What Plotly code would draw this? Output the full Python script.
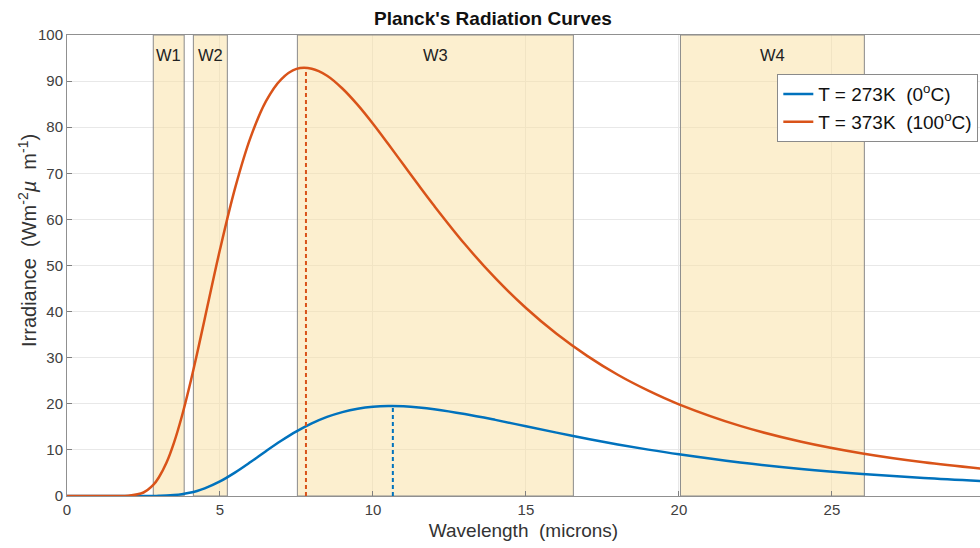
import plotly.graph_objects as go

# Wavelength samples (microns) and irradiance values
wavelength = [0, 0.5, 1, 1.5, 2, 2.5, 2.82, 3, 3.25, 3.5, 3.75, 4, 4.25, 4.5, 5, 5.5, 6, 6.5, 7, 7.5,
              8, 8.5, 9, 9.5, 10, 10.5, 11, 11.5, 12, 13, 14, 15, 16, 17, 18, 19, 20, 22, 24, 26, 28, 30]
irr_273 = [0, 0, 0, 0, 0, 0.004, 0.01, 0.036, 0.09, 0.205, 0.39, 0.69, 1.1, 1.66, 3.16, 5.13, 7.37, 9.72,
           11.97, 14.01, 15.74, 17.15, 18.2, 18.92, 19.35, 19.51, 19.46, 19.22, 18.84, 17.79, 16.51,
           15.13, 13.75, 12.43, 11.19, 10.06, 9.04, 7.28, 5.88, 4.78, 3.9, 3.21]
irr_373 = [0, 0, 0, 0, 0.05, 0.76, 2.4, 4.01, 7.2, 11.64, 17.19, 23.69, 30.87, 38.41, 53.46, 66.95,
           77.79, 85.6, 90.39, 92.64, 92.69, 91.17, 88.4, 84.84, 80.75, 76.35, 71.84, 67.33, 62.95,
           54.65, 47.25, 40.77, 35.18, 30.4, 26.3, 22.85, 19.89, 15.21, 11.78, 9.24, 7.33, 5.88]

# Peak wavelengths and peak values
peak_x = [10.65, 7.81]
peak_y = [19.5, 92.9]

# Window bands
band_names = ["W1", "W2", "W3", "W4"]
band_start = [2.82, 4.13, 7.53, 20.05]
band_end = [3.83, 5.24, 16.55, 26.06]

series_names = ["T = 273K  (0<sup>o</sup>C)", "T = 373K  (100<sup>o</sup>C)"]
colors = ["#0072BD", "#D95319"]

FONT = "Liberation Sans, Arial, Helvetica, sans-serif"

fig = go.Figure()

for name, ys, c in zip(series_names, [irr_273, irr_373], colors):
    fig.add_trace(go.Scatter(x=wavelength, y=ys, mode="lines", name=name,
                             line=dict(color=c, width=2.5, shape="spline", smoothing=1)))

for px, py, c in zip(peak_x, peak_y, colors):
    fig.add_trace(go.Scatter(x=[px, px], y=[0, py], mode="lines", showlegend=False,
                             line=dict(color=c, width=2, dash="4px,3px")))

for nm, s, e in zip(band_names, band_start, band_end):
    fig.add_shape(type="rect", xref="x", yref="y", x0=s, x1=e, y0=0, y1=100,
                  fillcolor="rgba(250,224,160,0.5)", line=dict(color="#8a8a8a", width=1),
                  layer="between")
    fig.add_annotation(x=(s + e) / 2, y=95.6, text=nm, showarrow=False,
                       font=dict(family=FONT, size=16.5, color="#222222"))

# y-axis title as rotated annotation
fig.add_annotation(xref="paper", yref="paper", x=-0.044, y=0.555, xanchor="center", yanchor="middle",
                   textangle=-90, showarrow=False,
                   text="Irradiance  (Wm<sup>-2</sup><i>\u00b5</i>  m<sup>-1</sup>)",
                   font=dict(family=FONT, size=20, color="#333333"))

fig.update_layout(
    width=980, height=548,
    margin=dict(l=67, r=0, t=35, b=52),
    plot_bgcolor="white", paper_bgcolor="white",
    title=dict(text="<b>Planck's Radiation Curves</b>", x=0.503, xanchor="center",
               y=0.967, yanchor="middle", font=dict(family=FONT, size=19, color="#111111")),
    font=dict(family=FONT, size=15, color="#404040"),
    legend=dict(x=0.778, y=0.915, xanchor="left", yanchor="top", bgcolor="white",
                bordercolor="#8a8a8a", borderwidth=1, font=dict(family=FONT, size=19, color="#111111"),
                tracegroupgap=0),
    showlegend=True,
)

fig.update_xaxes(range=[0, 29.84], tickvals=[0, 5, 10, 15, 20, 25], ticks="inside", ticklen=5,
                 tickcolor="#808080", showline=True, linecolor="#909090", linewidth=1, mirror=True,
                 showgrid=True, gridcolor="#e8e8e8", zeroline=False,
                 title=dict(text="Wavelength  (microns)", font=dict(family=FONT, size=19, color="#333333"),
                            standoff=6),
                 tickfont=dict(family=FONT, size=15, color="#404040"))
fig.update_yaxes(range=[0, 100], dtick=10, ticks="inside", ticklen=5, tickcolor="#808080",
                 showline=True, linecolor="#909090", linewidth=1, mirror=False,
                 showgrid=True, gridcolor="#e8e8e8", zeroline=False,
                 tickfont=dict(family=FONT, size=15, color="#404040"))

fig.write_html("out.html")
